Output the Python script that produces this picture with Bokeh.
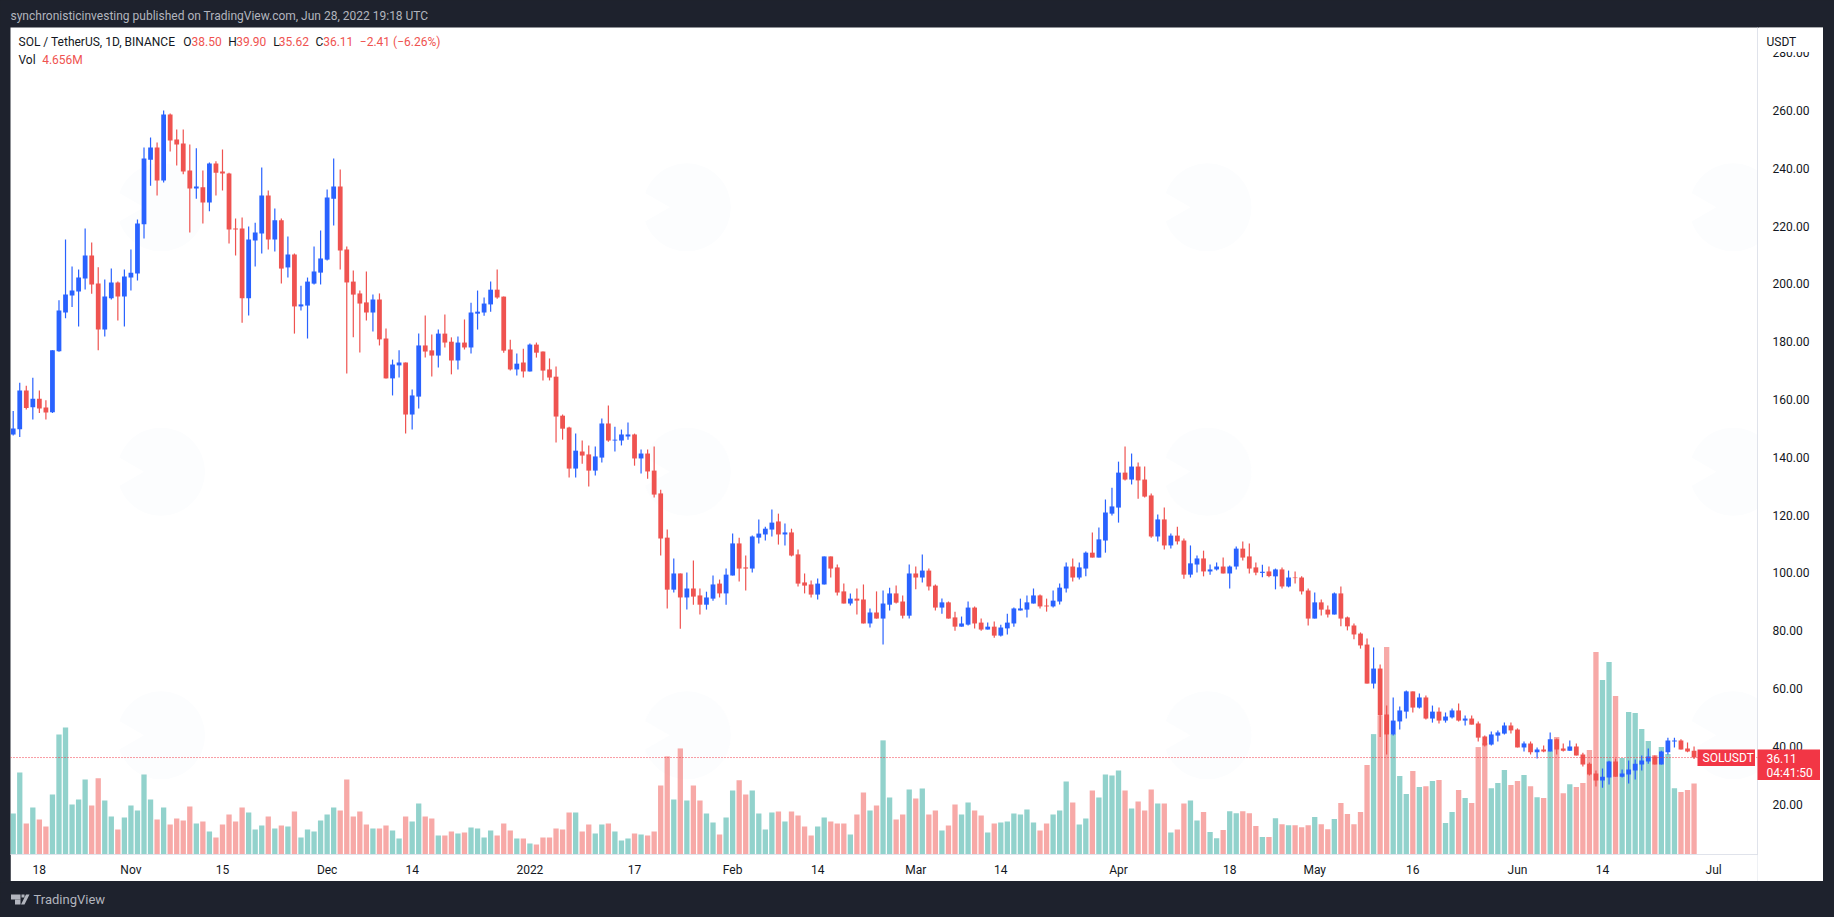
from math import pi
from bokeh.plotting import figure
from bokeh.layouts import column
from bokeh.core.properties import value
from bokeh.models import (ColumnDataSource, Range1d, FixedTicker, PrintfTickFormatter, Span, Label)
from bokeh.embed import file_html
from bokeh.resources import INLINE

opens = [147.9,149.7,163.1,157.3,160.3,157.2,155.6,176.7,190.1,196,197.4,201.9,209.8,200.1,184.2,195,200.5,195.6,202.2,203.6,
 220.6,243,247.2,235.8,258.6,250,248.6,239.2,233,233.4,228.2,241.7,238.9,238.2,219.2,219.2,195,215,217.4,230.6,
 215.4,222,205.7,210.2,192.2,192.5,200.1,203.9,208.4,229.5,233.7,211.9,200.8,196.7,193.6,190.1,194.6,181.1,167.3,171.8,
 172.8,154.8,161,178.7,177,175.2,182.8,180,173.5,179.7,178,189.7,190.1,192.9,198,195.6,177.3,170.4,172.8,169.7,
 179,176.6,170.4,167.9,154.4,150.3,136.1,142,141,135.4,139.9,151.7,145.8,145.8,147.2,147.9,139.6,141.3,135.4,127.5,
 112.2,94.2,99.8,91.5,94.6,92.2,89,91.1,96.3,92.9,99.1,110.2,101.9,101.5,112.2,113.3,115,117.8,113.3,114,
 106.4,96.7,96,92.5,96,105.7,101.9,93.6,89.4,91.1,90.8,82.5,86.3,84.2,89,92.9,90.1,85.2,99.8,98.4,
 100.8,95.6,88,89.8,84.6,81.4,82.1,88,82.8,80.4,81.4,78.3,80.8,82.5,87,87.3,89.4,92.2,88.7,88.4,
 90.1,94.6,102.2,98.4,101.5,107,105.3,111.2,120.5,122.6,134.7,132.3,136.8,132.3,126.8,112.6,118.5,109.5,112.9,111.2,
 99.4,102.9,105,100.5,101.2,102.2,99.8,102.2,108.4,105.7,101.9,100,100.5,98.8,101.2,95.3,98.4,98.4,93.9,84.2,
 89.8,87.3,85.6,92.9,84.6,81.8,79,75.2,61.7,66.9,51,44.1,48.6,52,59,53.4,56.9,49.6,52,48.9,
 50,52.4,48.9,49.6,47.9,43.4,40.6,43.7,44.4,47.2,45.8,39.6,41,37.9,38.9,38.2,42.4,39.2,38.5,39.9,
 37.2,34,30.6,28.2,29.2,34.7,29.5,30.2,31.6,33.7,34.7,36.5,33.7,37.9,41.7,42,39.2,38.5]
highs = [156,165.8,164.8,167.5,163.1,159.7,177,194.3,215.4,206,205,219.2,214.3,205.8,201.5,205.3,200.8,205,211.9,222.3,
 247.2,250.7,248.9,260,259,253.4,253.4,248.2,246.9,239.2,242,242.4,246.5,238.5,222.6,223,219.9,221.2,240.3,232.3,
 226.1,222.6,216.4,210.5,199.4,202.2,212.9,218.5,232.7,243.4,239.6,212.9,204.6,197.7,204.3,196.3,196.7,184.6,173.8,177,
 172.8,163.5,182.8,189.1,182.5,184.2,189.4,181.5,181.8,187.7,193.5,197.7,195.3,200.8,205,195.6,180.7,175.9,177.6,179.4,
 179.7,176.6,174.2,171.4,154.8,150.6,148.2,145.8,144.1,143.7,153.4,157.9,150.6,149.6,152,148.2,142.7,142.7,143.7,128.8,
 115,105,99.8,100.1,104.3,94.6,93.5,99.1,97.7,101.5,113.6,112.2,106,112.9,118.5,116,121.9,120.5,117.1,115.3,
 108.1,99.8,97.4,98.1,105.7,105.7,102.9,96.3,92.9,94.6,96,87.7,93.6,93.9,94.9,95.6,92.2,102.9,102.2,106.4,
 101.5,96,91.1,90.1,86.6,84.9,90.1,88.4,84.2,82.8,83.2,82.1,85.9,88,91.1,92.2,94.6,92.5,91.1,93.9,
 96.3,103.6,105,103.6,107.4,114,115.7,125.4,129.5,138.5,143.7,141.3,138.2,136.8,127.5,120.2,122.6,113.6,116,111.9,
 109.5,106,107.7,102.9,103.6,105.3,102.6,109.1,110.9,110.2,103.6,102.8,102.2,101.5,101.9,100.8,100.5,98.8,94.6,93.2,
 90.8,88.7,93.2,95.3,84.9,82.5,79.4,77.3,74.2,68.3,54.1,56.9,53.8,59.3,59,58.3,57.6,54.1,53.4,51.7,
 53.1,54.8,50.7,50.7,48.6,43.7,45.1,45.5,48.2,48.2,46.2,41.7,41.7,39.6,40.3,44.8,42.7,41,42,41,
 37.8,34.4,31.6,32.3,35,35.8,32,35.1,35.4,36.8,39.2,36.8,38.5,43,43,42.4,41.3,39.9]
lows = [147.5,147,156.5,153.1,155.3,153.1,155.3,176.5,188.1,192,185.3,198.1,196.6,177,181.8,194.6,187.3,185.3,197.7,201.2,
 215.7,234,230.6,235.1,245.8,241,237.9,217.8,229.5,220.9,225.1,230.6,232.3,214,209.8,186.6,189.1,206,210.5,211.9,
 211.2,200.1,202.2,182.8,190.8,181.1,199.8,199.8,208.1,220.2,205,169,181.5,176.3,187.3,183.5,178.7,167.3,161.4,167.6,
 148.2,149.6,156.9,174.5,168,171.1,178,168.7,170.4,177.3,175.9,184.2,189,190.4,194.9,176.2,170,168.3,167.6,169.7,
 174.5,166.6,166.6,145.1,146.1,133,133,137.8,129.9,133.7,138.2,145.4,142,144.1,146.1,137.1,134.4,132.6,126.1,106,
 87.7,93.2,80.7,87.3,89,85.6,87.3,90.4,91.5,89,99.1,97,93.9,100.1,110.2,111.2,112.6,109.8,109.5,105.7,
 95.3,92.9,91.5,90.8,96,98.4,92.2,89.4,88.7,85.6,82.5,81.1,84.2,75.2,87,89.4,84.2,84.2,94.3,96.7,
 93.9,87,85.9,84.2,80,81.4,81.8,80.8,80,80.4,77.6,78,78.7,81.4,87,84.6,89.4,87.7,86.6,88,
 89.1,93.2,97,97.7,98.8,105.3,105.3,107,119.9,117.4,132,130.6,125.7,126.1,112.2,110.9,108.1,108.4,109.8,98,
 98.4,100.1,98.8,99.4,100.8,99.8,94.6,101.2,104.3,99.8,99.2,98.5,98.5,94.3,94.6,95,96.3,92.5,81.8,84.2,
 85.3,84.6,85.6,81.5,80.1,77,73.8,61.7,60,43.2,37.2,43.7,45.8,49.6,51.7,53.1,49.3,48.2,47.9,48.2,
 49.6,48.6,47.2,47.5,41.7,39.9,40.3,41.7,44.1,44.4,39.6,38.2,37.2,35.8,37.9,38.2,37.2,38.2,38.5,36.8,
 33,29.9,26.1,25.7,26.8,29.5,29.2,27.1,28.5,31.6,34,33.7,33.7,37.2,39.6,38.9,37.9,35.62]
closes = [150,163.1,157.1,160.3,156.9,155.5,177,190.8,196.3,197.7,202.2,209.8,199.8,184.2,195.6,200.5,195.6,202.6,203.9,220.9,
 243.4,247.2,235.8,258.6,249.6,248.2,238.9,233,233.7,228.2,241.7,238.5,238.2,218.8,218.8,195,215.4,217.8,230.6,215.4,
 222,205.3,210.2,192.2,192.9,200.8,204.3,208.8,229.9,233.7,211.6,200.5,196.3,193.2,190.1,194.6,180.8,167.3,172.1,172.8,
 154.8,161.4,178.7,176.6,175.2,182.8,179.7,173.5,179.7,178,190.1,190.4,193.2,198,195.3,176.9,170.4,172.4,169.7,179,
 176.2,170,167.6,154.1,149.9,136.1,142.3,140.6,135.4,140.3,151.7,145.8,146.1,147.9,147.9,139.6,141.3,135.1,127.1,111.9,
 94.2,99.8,91.5,94.6,91.8,89,91.5,96,92.9,99.4,110.2,101.5,101.5,112.6,113.6,115.3,117.4,113.3,114,106,
 96.3,95.6,92.5,96.3,105.7,101.5,93.2,89.4,91.1,90.4,82.5,86.3,84.2,89.4,92.9,89.7,85.2,99.8,98.4,100.8,
 95.3,88,89.8,84.2,81.4,82.5,88,82.5,80.4,81.4,78.3,81.1,82.8,87.7,87.7,89.8,92.2,88.4,88.4,90.4,
 94.9,102.2,98.4,101.9,107,105.3,111.6,120.9,123,134.7,132.3,136.8,132,126.4,112.6,118.5,109.5,112.9,110.9,99.4,
 103.3,105,100.5,101.2,102.2,99.8,102.2,108.4,105.3,101.5,100.1,100.4,98.9,101.2,95.3,98.4,98.2,93.6,84.2,89.8,
 87.3,85.6,92.9,84.2,81.5,78.7,74.9,61.7,66.9,50.7,44.1,48.9,52.4,59,53.4,56.9,49.6,52,48.9,50.3,
 52.4,48.9,49.6,47.5,43,40.3,44.1,44.8,47.2,45.5,39.6,41,37.9,38.9,38.2,42.4,38.9,38.5,39.9,36.8,
 33.7,30.2,28.2,29.5,34.7,29.5,30.6,32,34,35.1,36.5,33.7,38.2,42,42,38.9,38.2,36.11]
volumes = [2.69,5.38,2.03,3.08,2.30,1.84,3.94,7.87,8.33,3.28,3.61,4.92,3.21,4.99,3.54,2.49,1.64,2.43,3.21,2.89,
 5.25,3.61,2.30,3.08,1.97,2.36,2.23,3.15,2.03,2.17,1.51,1.12,1.97,2.62,2.17,3.08,2.76,1.64,1.90,2.49,
 1.71,1.90,1.84,2.82,1.12,1.64,1.51,2.23,2.62,3.08,2.89,4.92,2.49,2.82,1.97,1.71,1.71,1.90,1.57,1.05,
 2.49,2.17,3.35,2.49,2.36,1.25,1.25,1.51,1.38,1.44,1.77,1.71,1.12,1.57,1.25,2.03,1.57,1.05,1.05,0.72,
 0.66,1.12,1.12,1.71,1.64,2.76,2.76,1.51,1.97,1.38,1.97,2.03,1.51,0.92,1.05,1.38,1.31,1.25,1.51,4.53,
 6.43,3.61,6.95,3.54,4.53,3.54,2.69,2.10,1.31,2.43,4.20,4.86,3.94,4.20,2.69,1.64,2.76,2.82,2.17,2.82,
 2.56,1.84,1.25,1.84,2.43,2.17,2.03,2.03,1.31,2.62,4.07,2.89,3.21,7.48,3.74,2.30,2.62,4.26,3.67,4.33,
 2.62,2.89,1.57,1.90,3.28,2.62,3.41,2.89,2.56,1.44,2.03,2.10,2.17,2.69,2.62,2.95,2.10,1.57,2.03,2.62,
 2.89,4.79,3.41,1.97,2.36,4.20,3.74,5.25,5.18,5.51,4.20,3.02,3.48,2.89,4.26,3.35,3.35,1.44,1.64,3.35,
 3.54,2.23,2.78,1.47,1.07,1.60,2.84,2.71,2.84,2.71,1.86,1.14,1.14,2.38,1.99,1.92,1.92,1.79,1.92,2.45,
 1.99,1.66,2.32,3.37,2.65,1.99,2.78,5.86,7.89,9.10,13.60,7.89,5.14,3.96,5.47,4.42,4.48,4.81,4.88,2.06,
 2.78,4.22,3.70,3.37,7.04,7.30,4.35,4.68,5.53,4.55,4.81,5.21,4.48,3.76,3.70,6.80,7.70,4.02,4.61,4.42,
 4.68,6.85,13.27,11.44,12.62,10.39,6.32,9.34,9.27,8.22,7.44,6.52,7.04,6.58,4.35,4.09,4.22,4.656]

time_ticks = [4,18,32,48,61,79,95,110,123,138,151,169,186,199,214,230,243,260]
time_labels = ["18","Nov","15","Dec","14","2022","17","Feb","14","Mar","14","Apr","18","May","16","Jun","14","Jul"]
price_ticks = [20,40,60,80,100,120,140,160,180,200,220,240,260,280]
last_close = 36.11
wm_days = [22.6,22.6,22.6,103,103,103,182.6,182.6,182.6,263,263,263]
wm_prices = [226.5,135,43.8,226.5,135,43.8,226.5,135,43.8,226.5,135,43.8]
wm_cut_days = [d - 5.6 for d in wm_days]

BLUE, RED, TEAL = "#2962ff", "#ef5350", "#26a69a"
DARK, TEXT, AXIS = "#1e222d", "#131722", "#e0e3eb"
LABEL_RED, TAG_RED, MUTED = "#ef5350", "#f23645", "#b2b5be"
FONT = "Roboto"

n = len(opens)
days = list(range(n))
up = [c >= o for o, c in zip(opens, closes)]
src = ColumnDataSource(dict(day=days, top=[max(o, c) for o, c in zip(opens, closes)],
                            bottom=[min(o, c) for o, c in zip(opens, closes)], high=highs, low=lows, vol=volumes,
                            candle=[BLUE if u else RED for u in up], volc=[TEAL if u else RED for u in up]))

def place(x, y):
    return {"position": "absolute", "left": f"{x}px", "top": f"{y}px"}

def label(fig, X, Y, txt, color=TEXT, size="12px"):
    fig.add_layout(Label(x=X, y=Y, x_units="canvas", y_units="canvas", text=txt, text_color=color,
                         text_font=FONT, text_font_size=size, text_align="left", text_baseline="middle"))

def panel(x, y, w, h, bg):
    f = figure(frame_width=w, frame_height=h, output_backend="svg", toolbar_location=None, tools="",
               x_range=Range1d(0, w), y_range=Range1d(h, 0), x_axis_type=None, y_axis_type=None,
               min_border=0, min_border_left=0, min_border_right=0, min_border_top=0, min_border_bottom=0,
               background_fill_color=bg, border_fill_color=bg, outline_line_color=None,
               styles=place(x, y))
    f.grid.visible = False
    return f

def note(fig, X, Y, txt, color):
    fig.text(x=[X], y=[Y], text=[txt], text_color=color, text_font=value(FONT), text_font_size="12px",
             text_align="left", text_baseline="middle")

# main pane: real scales and axes
X0, Y0 = 10, 27
p = figure(width=1813, height=854, output_backend="svg", toolbar_location=None, tools="",
           x_range=Range1d(-0.413, 266.7), y_range=Range1d(2.56, 288.72),
           y_axis_location="right", min_border_left=0, min_border_right=66, min_border_top=0, min_border_bottom=27,
           background_fill_color="#ffffff", border_fill_color="#ffffff", outline_line_color=None,
           styles=place(X0, Y0))
p.grid.visible = False
p.extra_y_ranges = {"vol": Range1d(0, 54.2)}

p.xaxis.ticker = FixedTicker(ticks=time_ticks)
p.xaxis.major_label_overrides = dict(zip(time_ticks, time_labels))
p.xaxis.major_tick_line_color = None
p.xaxis.minor_tick_line_color = None
p.xaxis.axis_line_color = AXIS
p.xaxis.major_label_text_color = TEXT
p.xaxis.major_label_text_font = FONT
p.xaxis.major_label_text_font_size = "12px"
p.xaxis.major_label_standoff = 2

p.yaxis.ticker = FixedTicker(ticks=price_ticks)
p.yaxis.formatter = PrintfTickFormatter(format="%.2f")
p.yaxis.major_tick_line_color = None
p.yaxis.minor_tick_line_color = None
p.yaxis.axis_line_color = AXIS
p.yaxis.major_label_text_color = TEXT
p.yaxis.major_label_text_font = FONT
p.yaxis.major_label_text_font_size = "12px"
p.yaxis.major_label_standoff = 9

# faint watermark
p.scatter(wm_days, wm_prices, size=88, marker="circle", fill_color="#fcfdfe", line_color=None)
p.scatter(wm_cut_days, wm_prices, size=34, marker="triangle", angle=-pi / 2, fill_color="#ffffff", line_color=None)

# volume
p.vbar(x="day", top="vol", bottom=0, width=0.81, fill_color="volc", fill_alpha=0.5, line_color=None,
       y_range_name="vol", source=src)
# candles
p.segment(x0="day", x1="day", y0="low", y1="high", line_color="candle", line_width=1.2, source=src)
p.vbar(x="day", top="top", bottom="bottom", width=0.73, fill_color="candle", line_color=None, source=src)

p.add_layout(Span(location=last_close, dimension="width", line_color=TAG_RED, line_dash="1 2", line_width=1))

# legend inside the pane
label(p, 18 - X0, 41 - Y0, "SOL / TetherUS, 1D, BINANCE")
for X, t in [(182.7, "O"), (227.7, "H"), (272.7, "L"), (315, "C")]:
    label(p, X - X0, 41 - Y0, t)
for X, t in [(191, "38.50"), (235.7, "39.90"), (278.3, "35.62"), (322.7, "36.11"), (359.3, "−2.41 (−6.26%)")]:
    label(p, X - X0, 41 - Y0, t, LABEL_RED)
label(p, 18 - X0, 59 - Y0, "Vol")
label(p, 41.7 - X0, 59 - Y0, "4.656M", LABEL_RED)

# header strip
header = panel(0, 0, 1834, 27, DARK)
label(header, 10, 15, "synchronisticinvesting published on TradingView.com, Jun 28, 2022 19:18 UTC", MUTED)

# footer strip with the TradingView mark
footer = panel(0, 882, 1834, 35, DARK)
label(footer, 33, 17, "TradingView", MUTED, size="13px")
footer.quad(left=[10.5, 14.5, 21], right=[20, 20, 24], top=[12, 17, 12], bottom=[17, 22, 15], fill_color=MUTED, line_color=None)
footer.patch(x=[25.5, 29, 24, 20.5], y=[12, 12, 22, 22], fill_color=MUTED, line_color=None)

# rule lines that run past the axes, and the strip under the pane
rule_v = panel(1757, 854, 1, 27, AXIS)
rule_h = panel(1757, 854, 66, 1, AXIS)
rule_b = panel(10, 881, 1813, 1, "#8a8d96")

# axis title over the clipped top label
usdt = panel(1758, 27, 65, 25, "#ffffff")
note(usdt, 8, 14, "USDT", TEXT)

# price tags
tag = panel(1697, 749, 58, 17, TAG_RED)
note(tag, 5, 8.5, "SOLUSDT", "#ffffff")
ptag = panel(1757, 749, 63, 31, TAG_RED)
note(ptag, 9, 8.5, "36.11", "#ffffff")
note(ptag, 9, 23, "04:41:50", "#ffffff")

root = column(p, header, footer, rule_v, rule_h, rule_b, usdt, tag, ptag, width=1834, height=917,
              styles={"position": "absolute", "left": "0px", "top": "0px", "background": DARK})

open("out.html", "w").write(file_html(root, INLINE))
